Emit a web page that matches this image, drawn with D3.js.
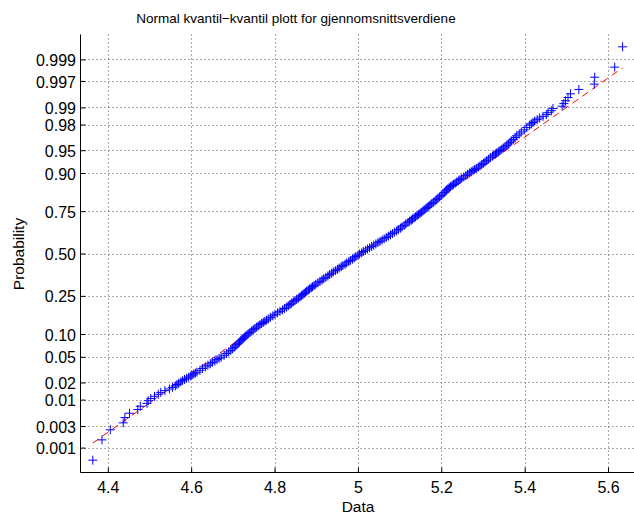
<!DOCTYPE html>
<html>
<head>
<meta charset="utf-8">
<script src="https://cdn.jsdelivr.net/npm/d3@7"></script>
<style>
    body { margin: 0; background: #fff; }
    svg text { font-family: "Liberation Sans", Arial, Helvetica, sans-serif; fill: #000; }
</style>
</head>
<body>
<div id="container"></div>
<script>
// sorted sample (1000 means), read at selected order-statistic ranks
const sampleSize = 1000;

const ranks = [
    1, 2, 3, 4, 5, 6, 7, 8, 9, 10, 11, 12, 13, 14, 15, 16, 17, 18,
    19, 20, 21, 22, 23, 24, 25, 26, 27, 28, 29, 30,
    32, 34, 36, 38, 40, 42, 44, 46, 48, 50,
    53, 56, 59, 62, 65, 68, 71, 74, 77, 80, 83, 86, 89, 92, 95, 98, 101,
    105, 109, 113, 117, 121, 125, 129, 133, 137, 141, 145, 149,
    155, 161, 167, 173, 179, 185, 191, 197, 203, 209, 215, 221, 227, 233, 239, 245, 251, 257, 263, 269, 275, 281, 287, 293, 299, 305,
    313, 321, 329, 337, 345, 353, 361, 369, 377, 385, 393, 401, 409, 417, 425, 433, 441, 449, 457, 465, 473, 481, 489, 497,
    505, 513, 521, 529, 537, 545, 553, 561, 569, 577, 585, 593, 601, 609, 617, 625, 633, 641, 649, 657, 665, 673, 681, 689, 697,
    703, 709, 715, 721, 727, 733, 739, 745, 751, 757, 763, 769, 775, 781, 787, 793, 799, 805, 811, 817, 823, 829, 835, 841,
    845, 849, 853, 857, 861, 865, 869, 873, 877, 881, 885, 889, 893, 897, 901,
    904, 907, 910, 913, 916, 919, 922, 925, 928, 931, 934, 937, 940,
    942, 944, 946, 948, 950, 952, 954, 956, 958, 960, 962, 964, 966, 968, 970, 972, 974, 976, 978, 980,
    981, 982, 983, 984, 985, 986, 987, 988, 989, 990, 991, 992, 993, 994, 995, 996, 997, 998, 999, 1000
];

const values = [
    4.364, 4.386, 4.406, 4.437, 4.441, 4.452, 4.472, 4.478, 4.494, 4.497, 4.503, 4.512, 4.521, 4.527, 4.537, 4.548, 4.555, 4.562,
    4.566, 4.570, 4.575, 4.579, 4.584, 4.589, 4.594, 4.599, 4.602, 4.606, 4.610, 4.614,
    4.621, 4.627, 4.634, 4.640, 4.646, 4.651, 4.657, 4.662, 4.667, 4.672,
    4.679, 4.685, 4.690, 4.695, 4.699, 4.703, 4.706, 4.710, 4.713, 4.716, 4.719, 4.722, 4.725, 4.728, 4.731, 4.734, 4.737,
    4.741, 4.745, 4.749, 4.753, 4.757, 4.761, 4.765, 4.769, 4.773, 4.777, 4.781, 4.785,
    4.790, 4.796, 4.801, 4.807, 4.813, 4.819, 4.824, 4.829, 4.833, 4.837, 4.841, 4.845, 4.849, 4.853, 4.857, 4.861, 4.865, 4.868, 4.871, 4.874, 4.877, 4.881, 4.884, 4.888, 4.891, 4.895,
    4.899, 4.904, 4.909, 4.914, 4.918, 4.923, 4.928, 4.932, 4.937, 4.941, 4.946, 4.951, 4.955, 4.960, 4.964, 4.969, 4.973, 4.978, 4.982, 4.987, 4.991, 4.995, 5.000, 5.004,
    5.009, 5.013, 5.018, 5.023, 5.028, 5.033, 5.038, 5.043, 5.048, 5.053, 5.058, 5.063, 5.068, 5.073, 5.078, 5.083, 5.088, 5.093, 5.097, 5.102, 5.106, 5.111, 5.115, 5.120, 5.124,
    5.128, 5.131, 5.135, 5.138, 5.142, 5.145, 5.149, 5.152, 5.156, 5.159, 5.163, 5.166, 5.170, 5.173, 5.177, 5.181, 5.185, 5.189, 5.192, 5.196, 5.200, 5.204, 5.208, 5.211,
    5.213, 5.216, 5.219, 5.222, 5.226, 5.229, 5.233, 5.237, 5.241, 5.245, 5.249, 5.254, 5.259, 5.263, 5.268,
    5.272, 5.276, 5.280, 5.284, 5.289, 5.293, 5.297, 5.301, 5.305, 5.309, 5.313, 5.318, 5.323,
    5.326, 5.330, 5.333, 5.337, 5.341, 5.345, 5.349, 5.353, 5.357, 5.361, 5.365, 5.368, 5.373, 5.377, 5.381, 5.387, 5.392, 5.399, 5.405, 5.412,
    5.416, 5.420, 5.424, 5.430, 5.436, 5.444, 5.452, 5.456, 5.464, 5.468, 5.490, 5.494, 5.498, 5.504, 5.510, 5.530, 5.567, 5.568, 5.616, 5.635
];

// reference line (red dashed), end points
const fitX = [4.364, 5.635];
const fitP = [0.00127, 0.99845];

const xTicks = [4.4, 4.6, 4.8, 5, 5.2, 5.4, 5.6];
const xTickLabels = ["4.4", "4.6", "4.8", "5", "5.2", "5.4", "5.6"];
const yTicks = [0.001, 0.003, 0.01, 0.02, 0.05, 0.10, 0.25, 0.50, 0.75, 0.90, 0.95, 0.98, 0.99, 0.997, 0.999];
const yTickLabels = ["0.001", "0.003", "0.01", "0.02", "0.05", "0.10", "0.25", "0.50", "0.75", "0.90", "0.95", "0.98", "0.99", "0.997", "0.999"];

// inverse normal cdf (Acklam)
function probit(p) {
    const a = [-3.969683028665376e+01, 2.209460984245205e+02, -2.759285104469687e+02, 1.383577518672690e+02, -3.066479806614716e+01, 2.506628277459239e+00];
    const b = [-5.447609879822406e+01, 1.615858368580409e+02, -1.556989798598866e+02, 6.680131188771972e+01, -1.328068155288572e+01];
    const c = [-7.784894002430293e-03, -3.223964580411365e-01, -2.400758276161838e+00, -2.549671750163430e+00, 4.374664141464968e+00, 2.938163982698783e+00];
    const d = [7.784695709041462e-03, 3.224671290700398e-01, 2.445134137142996e+00, 3.754408661907416e+00];
    const pl = 0.02425, ph = 1 - pl;
    let q, r;
    if (p < pl) {
        q = Math.sqrt(-2 * Math.log(p));
        return (((((c[0] * q + c[1]) * q + c[2]) * q + c[3]) * q + c[4]) * q + c[5]) / ((((d[0] * q + d[1]) * q + d[2]) * q + d[3]) * q + 1);
    }
    if (p > ph) {
        q = Math.sqrt(-2 * Math.log(1 - p));
        return -(((((c[0] * q + c[1]) * q + c[2]) * q + c[3]) * q + c[4]) * q + c[5]) / ((((d[0] * q + d[1]) * q + d[2]) * q + d[3]) * q + 1);
    }
    q = p - 0.5; r = q * q;
    return (((((a[0] * r + a[1]) * r + a[2]) * r + a[3]) * r + a[4]) * r + a[5]) * q / (((((b[0] * r + b[1]) * r + b[2]) * r + b[3]) * r + b[4]) * r + 1);
}

(() => {
    let width = 634,
        height = 516;

    let plotLeft = 80.5, plotRight = 634.9, plotTop = 34.5, plotBottom = 472.5;

    var xScale = d3.scaleLinear()
        .domain([4.3345, 5.6645])
        .range([plotLeft, plotRight]);

    var zScale = d3.scaleLinear()
        .domain([-3.487, 3.487])
        .range([plotBottom, plotTop]);

    const yPos = p => zScale(probit(p));

    var svg = d3.select("#container").append("svg")
        .attr("width", width)
        .attr("height", height);

    /* grid */
    let grid = svg.append("g").attr("class", "grid")
        .attr("stroke", "#555")
        .attr("stroke-width", 1)
        .attr("stroke-dasharray", "1,3");

    grid.selectAll(".vgrid")
        .data(xTicks)
        .enter().append("line")
        .attr("x1", d => Math.round(xScale(d)) + 0.5)
        .attr("x2", d => Math.round(xScale(d)) + 0.5)
        .attr("y1", plotTop)
        .attr("y2", plotBottom);

    grid.selectAll(".hgrid")
        .data(yTicks)
        .enter().append("line")
        .attr("y1", d => Math.round(yPos(d)) + 0.5)
        .attr("y2", d => Math.round(yPos(d)) + 0.5)
        .attr("x1", plotLeft)
        .attr("x2", width);

    /* reference line */
    svg.append("line")
        .attr("x1", xScale(fitX[0]))
        .attr("y1", yPos(fitP[0]))
        .attr("x2", xScale(fitX[1]))
        .attr("y2", yPos(fitP[1]))
        .attr("stroke", "#ff0000")
        .attr("stroke-width", 1)
        .attr("stroke-dasharray", "7,5");

    /* data markers */
    const points = ranks.map((r, i) => ({ value: values[i], p: (r - 0.5) / sampleSize }));

    svg.append("g")
        .selectAll("path")
        .data(points)
        .enter().append("path")
        .attr("transform", d => `translate(${xScale(d.value)},${yPos(d.p)})`)
        .attr("d", "M-4.5,0H4.5M0,-4.5V4.5")
        .attr("fill", "none")
        .attr("stroke", "#0000ff")
        .attr("stroke-width", 1);

    /* axes */
    var xAxis = d3.axisBottom(xScale)
        .tickValues(xTicks)
        .tickFormat((d, i) => xTickLabels[i])
        .tickSizeInner(-5)
        .tickSizeOuter(0)
        .tickPadding(9);

    var yAxis = d3.axisLeft(zScale)
        .tickValues(yTicks.map(probit))
        .tickFormat((d, i) => yTickLabels[i])
        .tickSizeInner(-5)
        .tickSizeOuter(0)
        .tickPadding(4.5);

    svg.append("g")
        .attr("transform", `translate(0, ${plotBottom})`)
        .call(xAxis);

    let gy = svg.append("g")
        .attr("transform", `translate(${plotLeft}, 0)`)
        .call(yAxis);

    svg.selectAll(".domain").remove();
    svg.selectAll(".tick line").attr("stroke", "#000");
    svg.selectAll(".tick text")
        .attr("font-size", 16)
        .attr("font-family", "Liberation Sans, Arial, sans-serif");
    gy.selectAll(".tick text").attr("dy", "0.38em");

    svg.append("line")
        .attr("x1", plotLeft).attr("x2", plotLeft)
        .attr("y1", plotTop).attr("y2", plotBottom)
        .attr("stroke", "#000");
    svg.append("line")
        .attr("x1", plotLeft).attr("x2", width)
        .attr("y1", plotBottom).attr("y2", plotBottom)
        .attr("stroke", "#000");

    /* labels */
    svg.append("text")
        .attr("x", 296)
        .attr("y", 22.5)
        .attr("text-anchor", "middle")
        .attr("font-size", 13.5)
        .text("Normal kvantil\u2212kvantil plott for gjennomsnittsverdiene");

    svg.append("text")
        .attr("x", 358)
        .attr("y", 511.5)
        .attr("text-anchor", "middle")
        .attr("font-size", 15.5)
        .text("Data");

    svg.append("text")
        .attr("transform", "translate(24, 254) rotate(-90)")
        .attr("text-anchor", "middle")
        .attr("font-size", 15.5)
        .text("Probability");
})()
</script>
</body>
</html>
